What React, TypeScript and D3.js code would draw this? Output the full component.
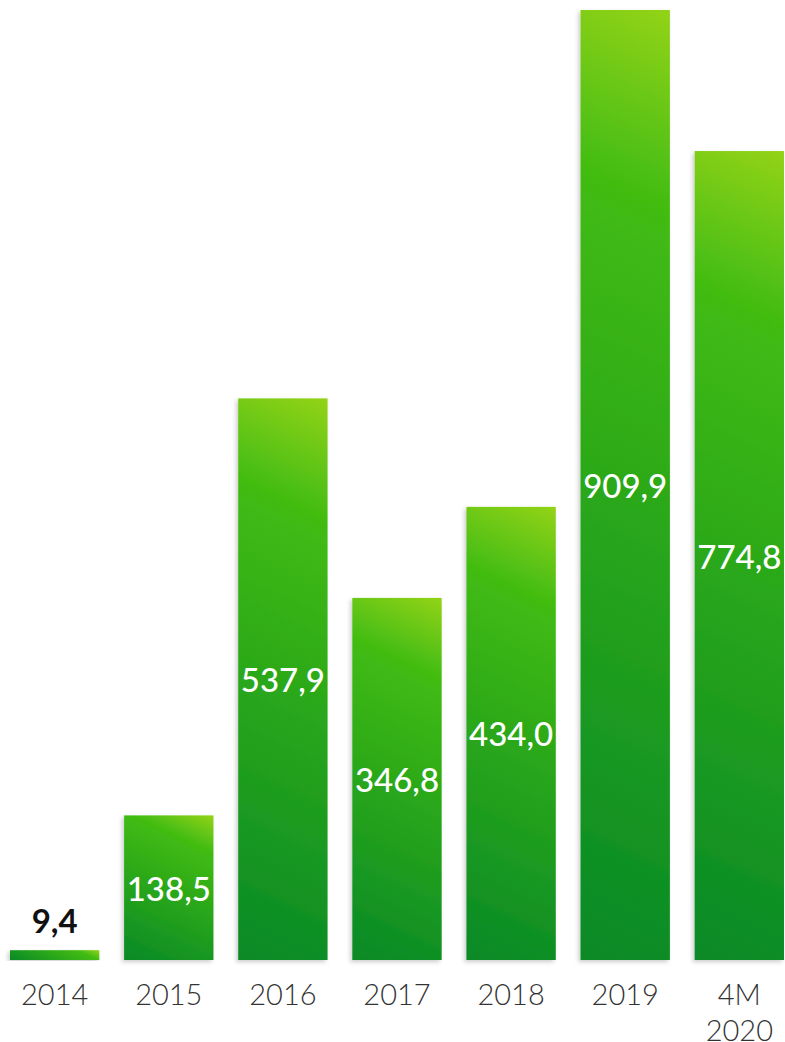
import { useMemo } from "react";
import * as d3 from "d3";

const categories = ["2014", "2015", "2016", "2017", "2018", "2019", "4M 2020"];
const values = [9.4, 138.5, 537.9, 346.8, 434.0, 909.9, 774.8];
const valueLabels = ["9,4", "138,5", "537,9", "346,8", "434,0", "909,9", "774,8"];

const width = 785;
const height = 1042;
const baseline = 960;
// gradient direction, degrees from vertical (like css linear-gradient)
const gradAngle = 25;

export default function App() {
  const xScale = useMemo(
    () =>
      d3
        .scaleBand<string>()
        .domain(categories)
        .range([10, 784])
        .paddingInner(0.217)
        .paddingOuter(0),
    []
  );
  const yScale = useMemo(
    () =>
      d3
        .scaleLinear()
        .domain([0, d3.max(values) ?? 0])
        .range([baseline, 10]),
    []
  );

  const bars = categories.map((c, i) => {
    const x = xScale(c) ?? 0;
    const y = yScale(values[i]);
    const w = xScale.bandwidth();
    const h = baseline - y;
    // css-style gradient line through the centre
    const a = (gradAngle * Math.PI) / 180;
    const dx = Math.sin(a);
    const dy = -Math.cos(a);
    const len = w * Math.abs(dx) + h * Math.abs(dy);
    const cx = x + w / 2;
    const cy = y + h / 2;
    return {
      key: c,
      id: `grad-${i}`,
      lines: c.split(" "),
      label: valueLabels[i],
      x,
      y,
      w,
      h,
      g: {
        x1: cx - (dx * len) / 2,
        y1: cy - (dy * len) / 2,
        x2: cx + (dx * len) / 2,
        y2: cy + (dy * len) / 2,
      },
    };
  });

  return (
    <svg
      width={width}
      height={height}
      viewBox={`0 0 ${width} ${height}`}
      style={{ position: "absolute", left: 0, top: 0, background: "#fff" }}
    >
      <defs>
        {bars.map((b) => (
          <linearGradient
            key={b.id}
            id={b.id}
            gradientUnits="userSpaceOnUse"
            x1={b.g.x1}
            y1={b.g.y1}
            x2={b.g.x2}
            y2={b.g.y2}
          >
            <stop offset="0" stopColor="#088927" />
            <stop offset="0.8" stopColor="#42bc11" />
            <stop offset="1" stopColor="#93d317" />
          </linearGradient>
        ))}
        <filter id="shadow" x="-20%" y="-5%" width="140%" height="110%">
          <feDropShadow dx={-2} dy={2} stdDeviation={2} floodColor="#000" floodOpacity={0.2} />
        </filter>
      </defs>

      {bars.map((b) => (
        <rect
          key={b.key}
          x={b.x}
          y={b.y}
          width={b.w}
          height={b.h}
          fill={`url(#${b.id})`}
          filter="url(#shadow)"
        />
      ))}

      {bars.map((b) => {
        const inside = b.h > 40;
        return (
          <text
            key={`v-${b.key}`}
            x={b.x + b.w / 2}
            y={inside ? b.y + b.h / 2 : b.y - 30}
            textAnchor="middle"
            dominantBaseline="central"
            fill={inside ? "#ffffff" : "#111111"}
            style={{
              fontFamily: "Lato, 'Open Sans', sans-serif",
              fontSize: "33px",
              fontWeight: inside ? 500 : 700,
            }}
          >
            {b.label}
          </text>
        );
      })}

      {bars.map((b) => (
        <text
          key={`c-${b.key}`}
          x={b.x + b.w / 2}
          y={1005}
          textAnchor="middle"
          fill="#333333"
          style={{
            fontFamily: "Lato, 'Open Sans', sans-serif",
            fontSize: "29px",
            fontWeight: 300,
          }}
        >
          {b.lines.map((line, j) => (
            <tspan key={j} x={b.x + b.w / 2} dy={j === 0 ? 0 : 36}>
              {line}
            </tspan>
          ))}
        </text>
      ))}
    </svg>
  );
}
